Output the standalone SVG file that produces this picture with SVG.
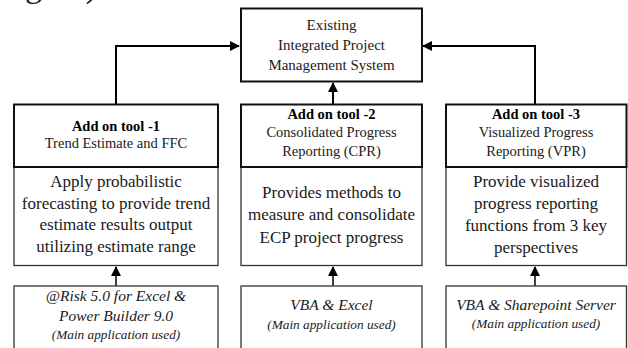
<svg xmlns="http://www.w3.org/2000/svg" width="628" height="348" viewBox="0 0 628 348">
<style>
text{font-family:"Liberation Serif","Times New Roman",serif;fill:#1a1a1a;text-anchor:middle}
.t{font-size:15px}
.h{font-size:14.5px}
.b{font-size:14.5px;font-weight:bold;fill:#000}
.d{font-size:17px}
.i{font-size:15.5px;font-style:italic}
.s{font-size:13.3px;font-style:italic}
.thick{fill:#fff;stroke:#111;stroke-width:2}
.thin{fill:#fff;stroke:#333;stroke-width:1.3}
.c{fill:none;stroke:#000;stroke-width:2}
</style>
<defs>
<marker id="ah" markerWidth="10" markerHeight="10" refX="9" refY="5" orient="auto" markerUnits="userSpaceOnUse">
<path d="M0,0 L10,5 L0,10 Z" fill="#000"/>
</marker>
</defs>
<text x="25" y="-3.5" style="text-anchor:start;font-size:34px">gure)</text>
<g id="connectors">
<path class="c" d="M116,104 V46 H239" marker-end="url(#ah)"/>
<path class="c" d="M535,104 V46 H423" marker-end="url(#ah)"/>
<path class="c" d="M333,104 V83" marker-end="url(#ah)"/>
<path class="c" style="stroke-width:1.5" d="M116,286 V267" marker-end="url(#ah)"/>
<path class="c" style="stroke-width:1.5" d="M333,286 V267" marker-end="url(#ah)"/>
<path class="c" style="stroke-width:1.5" d="M535,286 V267" marker-end="url(#ah)"/>
</g>
<g id="top">
<rect class="thick" x="241" y="8.5" width="181" height="73"/>
<text class="t" x="331.5" y="30">Existing</text>
<text class="t" x="331.5" y="50">Integrated Project</text>
<text class="t" x="331.5" y="70">Management System</text>
</g>
<g id="tool1">
<rect class="thin" x="14" y="167" width="204" height="98.5"/>
<rect class="thick" x="14" y="104.5" width="204" height="62.5"/>
<text class="b" x="116" y="131">Add on tool -1</text>
<text class="h" x="116" y="148">Trend Estimate and FFC</text>
<text class="d" x="116" y="187">Apply probabilistic</text>
<text class="d" x="116" y="209">forecasting to provide trend</text>
<text class="d" x="116" y="230">estimate results output</text>
<text class="d" x="116" y="252">utilizing estimate range</text>
</g>
<g id="tool2">
<rect class="thin" x="241" y="167" width="181" height="98.5"/>
<rect class="thick" x="241" y="104.5" width="181" height="62.5"/>
<text class="b" x="331.5" y="119">Add on tool -2</text>
<text class="h" x="331.5" y="137">Consolidated Progress</text>
<text class="h" x="331.5" y="156">Reporting (CPR)</text>
<text class="d" x="331.5" y="198">Provides methods to</text>
<text class="d" x="331.5" y="220">measure and consolidate</text>
<text class="d" x="331.5" y="243">ECP project progress</text>
</g>
<g id="tool3">
<rect class="thin" x="446" y="167" width="180.5" height="98.5"/>
<rect class="thick" x="446" y="104.5" width="180.5" height="62.5"/>
<text class="b" x="536" y="119">Add on tool -3</text>
<text class="h" x="536" y="137">Visualized Progress</text>
<text class="h" x="536" y="156">Reporting (VPR)</text>
<text class="d" x="536" y="187">Provide visualized</text>
<text class="d" x="536" y="209">progress reporting</text>
<text class="d" x="536" y="231">functions from 3 key</text>
<text class="d" x="536" y="253">perspectives</text>
</g>
<g id="app1">
<rect class="thin" x="14" y="286" width="204" height="70"/>
<text class="i" x="116" y="301">@Risk 5.0 for Excel &amp;</text>
<text class="i" x="116" y="321">Power Builder 9.0</text>
<text class="s" x="116" y="339">(Main application used)</text>
</g>
<g id="app2">
<rect class="thin" x="241" y="286" width="181" height="70"/>
<text class="i" x="331.5" y="310">VBA &amp; Excel</text>
<text class="s" x="331.5" y="329">(Main application used)</text>
</g>
<g id="app3">
<rect class="thin" x="446" y="286" width="180.5" height="70"/>
<text class="i" x="536" y="310">VBA &amp; Sharepoint Server</text>
<text class="s" x="536" y="328">(Main application used)</text>
</g>
</svg>
